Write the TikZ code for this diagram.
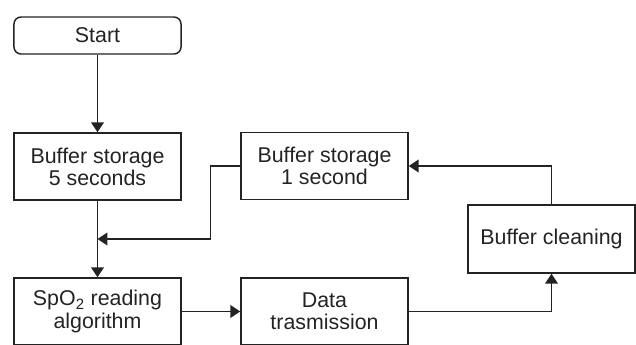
\documentclass[tikz,border=0pt]{standalone}
\usepackage{fontspec}
\setmainfont{Liberation Sans}
\usetikzlibrary{arrows.meta,positioning,calc}
\definecolor{ink}{RGB}{35,35,35}

\begin{document}
\begin{tikzpicture}[
    x=0.025cm, y=-0.025cm,
    flowbox/.style={rectangle, draw=ink, line width=1.05pt, minimum width=4.175cm,
                 minimum height=1.675cm, align=center, inner sep=2pt,
                 font=\fontsize{15.2}{15.8}\selectfont, text=ink},
    startbox/.style={flowbox, rounded corners=5pt, minimum height=0.925cm},
    arr/.style={-{Triangle[length=7pt,width=9pt]}, line width=1.05pt, ink}
  ]
    \useasboundingbox (0,0) rectangle (636,344);
    \node[startbox] (start) at (97.5, 35.5)  {Start};
    \node[flowbox] (buffive) at (97.5, 166.5) {Buffer storage\\5 seconds};
    \node[flowbox] (bufone) at (324.5, 166)   {Buffer storage\\1 second};
    \node[flowbox] (spo) at (97.5, 311.5)     {SpO\textsubscript{2} reading\\algorithm};
    \node[flowbox] (data) at (324.5, 311.5)   {Data\\trasmission};
    \node[flowbox, minimum height=1.7cm] (clean) at (551.5, 239) {Buffer cleaning};
    \coordinate (merge) at (97.5, 239);

    \draw[arr] (start) -- (buffive);
    \draw[arr] (buffive) -- (spo);
    \draw[arr] (bufone.west) -- ++(-30,0) |- (merge);
    \draw[arr] (spo) -- (data);
    \draw[arr] (data.east) -| (clean.south);
    \draw[arr] (clean.north) |- (bufone.east);
  \end{tikzpicture}
\end{document}
